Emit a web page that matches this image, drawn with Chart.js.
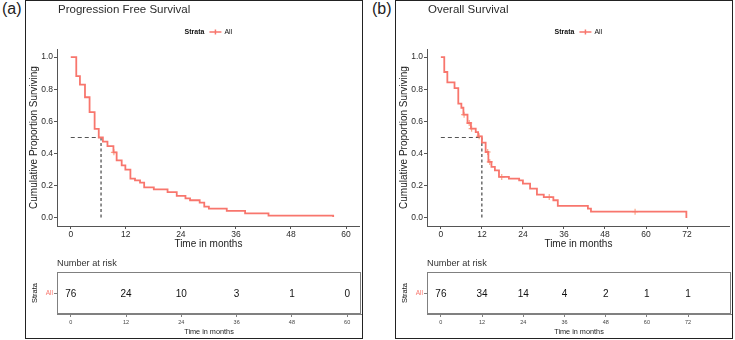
<!DOCTYPE html>
<html>
<head>
<meta charset="utf-8">
<script src="https://cdn.jsdelivr.net/npm/chart.js@4.4.1/dist/chart.umd.min.js"></script>
<style>
  body { margin: 0; background: #fff; }
  #fig { position: relative; width: 735px; height: 340px; font-family: 'Liberation Sans', Arial, sans-serif; }
  .panel { position: absolute; top: 0; width: 338px; height: 339px; border: 1px solid #222; box-sizing: border-box; }
  .tag { position: absolute; top: 0; font-size: 16px; color: #222; }
  canvas { position: absolute; }
</style>
</head>
<body>
<div id="fig">
  <div class="tag" style="left:2px">(a)</div>
  <div class="panel" style="left:25px"></div>
  <canvas id="pfsPlot" width="345" height="254" style="left:20px;top:0"></canvas>
  <canvas id="pfsRisk" width="345" height="86" style="left:20px;top:252px"></canvas>

  <div class="tag" style="left:372px">(b)</div>
  <div class="panel" style="left:395px"></div>
  <canvas id="osPlot" width="345" height="254" style="left:390px;top:0"></canvas>
  <canvas id="osRisk" width="345" height="86" style="left:390px;top:252px"></canvas>
</div>
<script>
const FONT = "'Liberation Sans', Arial, sans-serif";
const RED = '#F8766D';
const strata = 'All';
const yTicks = [0, 0.2, 0.4, 0.6, 0.8, 1.0];

// progression free survival: time of each drop and the survival after it
const pfsTime = [0, 1.2, 2.0, 3.1, 4.1, 5.2, 6.1, 7.0, 8.0, 9.3, 10.0, 11.1, 11.9, 13.0, 14.0, 15.1, 16.0, 18.1,
  21.1, 23.1, 25.0, 26.0, 28.1, 29.1, 30.1, 34.0, 38.0, 43.1, 57.2];
const pfsSurv = [1.0, 0.882, 0.829, 0.750, 0.658, 0.553, 0.500, 0.474, 0.447, 0.408, 0.358, 0.327, 0.300, 0.244,
  0.234, 0.219, 0.190, 0.178, 0.161, 0.137, 0.122, 0.110, 0.095, 0.070, 0.058, 0.044, 0.029, 0.014, 0.006];
const pfsCensorTime = [9.4];
const pfsCensorSurv = [0.408];
const pfsMedian = 6.6;
const pfsTicks = [0, 12, 24, 36, 48, 60];
const pfsAtRisk = [76, 24, 10, 3, 1, 0];

// overall survival
const osTime = [0, 1.0, 1.9, 4.0, 5.1, 6.0, 6.6, 7.8, 8.8, 10.2, 10.9, 12.0, 13.1, 13.9, 14.8, 15.8, 17.0, 19.9,
  22.9, 24.0, 26.1, 28.1, 30.1, 32.9, 34.2, 43.0, 43.9, 71.8];
const osSurv = [1.0, 0.907, 0.843, 0.807, 0.710, 0.685, 0.642, 0.590, 0.555, 0.534, 0.507, 0.468, 0.410, 0.348,
  0.317, 0.296, 0.255, 0.244, 0.234, 0.213, 0.182, 0.145, 0.130, 0.110, 0.075, 0.058, 0.039, 0.0];
const osCensorTime = [6.8, 8.3, 9.0, 11.2, 13.7, 14.3, 17.8, 31.7, 56.8];
const osCensorSurv = [0.642, 0.590, 0.555, 0.507, 0.410, 0.348, 0.255, 0.130, 0.039];
const osMedian = 12.0;
const osTicks = [0, 12, 24, 36, 48, 60, 72];
const osAtRisk = [76, 34, 14, 4, 2, 1, 1];

Chart.defaults.font.family = FONT;
Chart.defaults.color = '#333';

const pts = (xs, ys) => xs.map((x, i) => ({ x, y: ys[i] }));

// title and the "Strata -+- All" key above the curve
const header = {
  id: 'header',
  afterDraw(chart, args, o) {
    const { ctx, chartArea: a } = chart;
    ctx.save();
    ctx.textBaseline = 'middle';
    ctx.fillStyle = '#2b2b2b';
    ctx.font = '11.5px ' + FONT;
    ctx.fillText(o.title, a.left + 1, 10);

    ctx.font = 'bold 7px ' + FONT;
    const w1 = ctx.measureText('Strata').width;
    ctx.font = '7px ' + FONT;
    const w2 = ctx.measureText(strata).width;
    let x = (a.left + a.right) / 2 - (w1 + 5 + 12 + 3 + w2) / 2;
    const y = 32;
    ctx.font = 'bold 7px ' + FONT;
    ctx.fillStyle = '#111';
    ctx.fillText('Strata', x, y);
    x += w1 + 5;
    ctx.strokeStyle = RED;
    ctx.lineWidth = 1.5;
    ctx.beginPath();
    ctx.moveTo(x, y); ctx.lineTo(x + 12, y);
    ctx.moveTo(x + 6, y - 2.5); ctx.lineTo(x + 6, y + 2.5);
    ctx.stroke();
    x += 15;
    ctx.font = '7px ' + FONT;
    ctx.fillText(strata, x, y);
    ctx.restore();
  }
};

// boxed number-at-risk row
const riskText = {
  id: 'riskText',
  afterDatasetsDraw(chart) {
    const { ctx, chartArea: a } = chart;
    ctx.save();
    ctx.strokeStyle = '#808080';
    ctx.lineWidth = 1;
    ctx.strokeRect(a.left + 0.5, a.top + 0.5, a.right - a.left - 1, a.bottom - a.top - 1);
    ctx.fillStyle = '#111';
    ctx.font = '10px ' + FONT;
    ctx.textAlign = 'center';
    ctx.textBaseline = 'middle';
    const ds = chart.data.datasets[0].data;
    chart.getDatasetMeta(0).data.forEach((el, i) => ctx.fillText(String(ds[i].n), el.x, el.y + 1));
    ctx.textAlign = 'left';
    ctx.fillStyle = '#333';
    ctx.font = '9.2px ' + FONT;
    ctx.fillText('Number at risk', a.left, a.top - 9);
    ctx.restore();
  }
};

function kmPlot(id, title, time, surv, cTime, cSurv, median, ticks, xMin, xMax, padRight) {
  new Chart(document.getElementById(id), {
    type: 'scatter',
    data: {
      datasets: [
        {
          data: pts(time, surv), showLine: true, stepped: 'before',
          borderColor: RED, borderWidth: 1.8, pointRadius: 0
        },
        {
          data: pts(cTime, cSurv), pointStyle: 'cross', pointRadius: 3,
          borderColor: 'rgba(246,140,100,0.75)', borderWidth: 1.2
        },
        {
          data: [{ x: 0, y: 0.5 }, { x: median, y: 0.5 }], showLine: true,
          borderColor: '#555', borderWidth: 1, borderDash: [4, 3], pointRadius: 0
        },
        {
          data: [{ x: median, y: 0.5 }, { x: median, y: 0 }], showLine: true,
          borderColor: '#222', borderWidth: 1, borderDash: [3, 2.5], pointRadius: 0
        }
      ]
    },
    options: {
      responsive: false,
      animation: false,
      events: [],
      layout: { padding: { top: 49, right: padRight, left: 0, bottom: 0 } },
      plugins: { legend: { display: false }, tooltip: { enabled: false }, header: { title } },
      scales: {
        x: {
          min: xMin, max: xMax,
          afterBuildTicks: s => { s.ticks = ticks.map(v => ({ value: v })); },
          afterFit: s => { s.height = 28; },
          grid: { drawOnChartArea: false, tickLength: 3, color: '#555' },
          border: { color: '#555' },
          ticks: { padding: 1, font: { size: 8.5 }, color: '#2b2b2b', maxRotation: 0 },
          title: { display: true, text: 'Time in months', font: { size: 10 }, color: '#222', padding: { top: 0, bottom: 3.5 } }
        },
        y: {
          min: -0.05, max: 1.05,
          afterBuildTicks: s => { s.ticks = yTicks.map(v => ({ value: v })); },
          afterFit: s => { s.width = 37; },
          grid: { drawOnChartArea: false, tickLength: 3, color: '#555' },
          border: { color: '#555' },
          ticks: { padding: 1, font: { size: 8.5 }, color: '#2b2b2b', callback: v => v.toFixed(1) },
          title: { display: true, text: 'Cumulative Proportion Surviving', font: { size: 10 }, color: '#222', padding: { top: 8, bottom: 0 } }
        }
      }
    },
    plugins: [header]
  });
}

function riskTable(id, ticks, atRisk, xMin, xMax) {
  new Chart(document.getElementById(id), {
    type: 'scatter',
    data: { datasets: [{ data: ticks.map((t, i) => ({ x: t, y: 0.5, n: atRisk[i] })), pointRadius: 0 }] },
    options: {
      responsive: false,
      animation: false,
      events: [],
      layout: { padding: { top: 20, right: 4, left: 0, bottom: 0 } },
      plugins: { legend: { display: false }, tooltip: { enabled: false } },
      scales: {
        x: {
          min: xMin, max: xMax,
          afterBuildTicks: s => { s.ticks = ticks.map(v => ({ value: v })); },
          afterFit: s => { s.height = 24; },
          grid: { drawOnChartArea: false, tickLength: 3, color: '#808080' },
          border: { color: '#808080' },
          ticks: { padding: 2.5, font: { size: 5.5 }, color: '#444', maxRotation: 0 },
          title: { display: true, text: 'Time in months', font: { size: 7.3 }, color: '#222', padding: { top: 0, bottom: 1.6 } }
        },
        y: {
          min: 0, max: 1,
          afterBuildTicks: s => { s.ticks = [{ value: 0.5 }]; },
          afterFit: s => { s.width = 37; },
          grid: { drawOnChartArea: false, tickLength: 3, color: '#808080' },
          border: { color: '#808080' },
          ticks: { padding: 1, font: { size: 6.5 }, color: RED, callback: () => strata },
          title: { display: true, text: 'Strata', font: { size: 7.5 }, color: '#111', padding: { top: 10.5, bottom: 0 } }
        }
      }
    },
    plugins: [riskText]
  });
}

kmPlot('pfsPlot', 'Progression Free Survival', pfsTime, pfsSurv, pfsCensorTime, pfsCensorSurv, pfsMedian, pfsTicks, -3, 63, 5);
riskTable('pfsRisk', pfsTicks, pfsAtRisk, -3, 63);
kmPlot('osPlot', 'Overall Survival', osTime, osSurv, osCensorTime, osCensorSurv, osMedian, osTicks, -4.05, 84.5, 3);
riskTable('osRisk', osTicks, osAtRisk, -4.05, 84.5);
</script>
</body>
</html>
